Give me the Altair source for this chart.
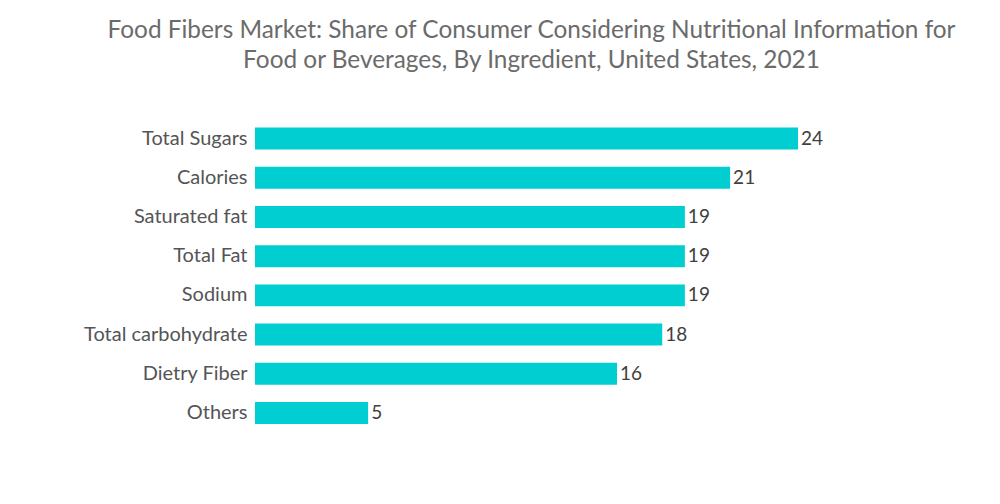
import altair as alt
import pandas as pd

categories = ["Total Sugars", "Calories", "Saturated fat", "Total Fat", "Sodium",
              "Total carbohydrate", "Dietry Fiber", "Others"]
values = [24, 21, 19, 19, 19, 18, 16, 5]

df = pd.DataFrame({"ingredient": categories, "share": values})

base = alt.Chart(df).encode(
    y=alt.Y("ingredient:N", sort=categories, title=None,
            scale=alt.Scale(paddingInner=0.44, paddingOuter=0.22),
            axis=alt.Axis(domain=False, ticks=False, labelFontSize=20, labelColor="#555555",
                          labelFont="Lato", labelPadding=8)),
    x=alt.X("share:Q", title=None, scale=alt.Scale(domain=[0, 24], nice=False),
            axis=None),
)

bars = base.mark_bar(color="#00CED1")
labels = base.mark_text(align="left", baseline="middle", dx=3, fontSize=19,
                        font="Lato", color="#404040").encode(text="share:Q")

chart = (bars + labels).properties(
    width=543, height=313.6,
    title=alt.TitleParams(
        ["Food Fibers Market: Share of Consumer Considering Nutritional Information for",
         "Food or Beverages, By Ingredient, United States, 2021"],
        fontSize=24.4, font="Lato", fontWeight="normal", color="#6b6b6b",
        anchor="middle", lineHeight=30, offset=46, dx=5),
    autosize=alt.AutoSizeParams(type="none"),
    padding={"left": 247, "top": 111, "right": 194, "bottom": 63},
).configure_view(stroke=None)

chart.save("out.html", embed_options={"renderer": "svg", "actions": False})
